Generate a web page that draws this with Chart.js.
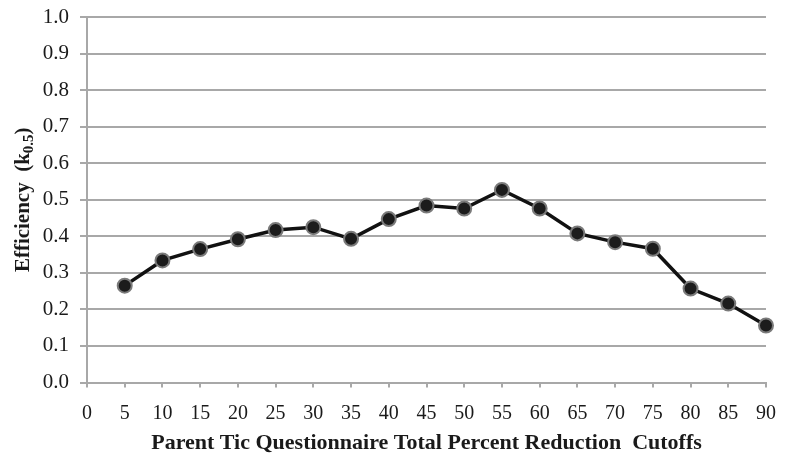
<!DOCTYPE html>
<html>
<head>
<meta charset="utf-8">
<script src="https://cdn.jsdelivr.net/npm/chart.js@4/dist/chart.umd.min.js"></script>
<style>
  html, body { margin: 0; padding: 0; background: #fff; }
  #wrap { width: 785px; height: 462px; }
</style>
</head>
<body>
<div id="wrap"><canvas id="chart"></canvas></div>
<script>
// cutoffs (percent reduction) and efficiency values
const cutoffs = [5, 10, 15, 20, 25, 30, 35, 40, 45, 50, 55, 60, 65, 70, 75, 80, 85, 90];
const efficiency = [0.265, 0.334, 0.365, 0.392, 0.417, 0.425, 0.393, 0.447, 0.484, 0.476, 0.527, 0.476, 0.408, 0.384, 0.366, 0.257, 0.216, 0.156];
const xTitle = "Parent Tic Questionnaire Total Percent Reduction  Cutoffs";
const yTitleParts = ["Efficiency  (k", "0.5", ")"];

const serif = "'Liberation Serif', 'DejaVu Serif', serif";
const gridGray = "#a8a8a8";
const textColor = "#1a1a1a";

// axis titles drawn by hand: the y one needs a subscript
const axisTitlePlugin = {
  id: "axisTitles",
  afterDraw(chart) {
    const ctx = chart.ctx;
    const area = chart.chartArea;
    ctx.save();
    ctx.fillStyle = textColor;
    ctx.textBaseline = "alphabetic";

    // x title
    ctx.font = "bold 22px " + serif;
    ctx.textAlign = "center";
    ctx.fillText(xTitle, (area.left + area.right) / 2, 449);

    // y title with subscript
    const big = "bold 21px " + serif;
    const small = "bold 15px " + serif;
    ctx.textAlign = "left";
    ctx.font = big;
    const w1 = ctx.measureText(yTitleParts[0]).width;
    const w3 = ctx.measureText(yTitleParts[2]).width;
    ctx.font = small;
    const w2 = ctx.measureText(yTitleParts[1]).width;
    const total = w1 + w2 + w3;
    ctx.translate(29, (area.top + area.bottom) / 2);
    ctx.rotate(-Math.PI / 2);
    let x = -total / 2;
    ctx.font = big;
    ctx.fillText(yTitleParts[0], x, 0);
    x += w1;
    ctx.font = small;
    ctx.fillText(yTitleParts[1], x, 4);
    x += w2;
    ctx.font = big;
    ctx.fillText(yTitleParts[2], x, 0);
    ctx.restore();
  }
};

new Chart(document.getElementById("chart"), {
  type: "line",
  data: {
    datasets: [{
      data: cutoffs.map((c, i) => ({ x: c, y: efficiency[i] })),
      borderColor: "#111",
      borderWidth: 3.5,
      pointRadius: 7,
      pointBackgroundColor: "#1c1c1c",
      pointBorderColor: "#7a7a7a",
      pointBorderWidth: 2,
      tension: 0,
      fill: false,
      clip: false
    }]
  },
  options: {
    responsive: true,
    maintainAspectRatio: false,
    animation: false,
    events: [],
    layout: { padding: { left: 8, top: 17, right: 19, bottom: 39.5 } },
    plugins: { legend: { display: false }, tooltip: { enabled: false } },
    scales: {
      x: {
        type: "linear",
        min: 0,
        max: 90,
        afterFit(scale) {
          scale.height = 40;
          scale.paddingLeft = 0;
          scale.paddingRight = 0;
        },
        ticks: { stepSize: 5, color: textColor, font: { family: serif, size: 20 }, padding: 14, maxRotation: 0 },
        grid: { drawOnChartArea: false, drawTicks: true, tickLength: 5, color: gridGray, lineWidth: 2 },
        border: { color: gridGray, width: 2 }
      },
      y: {
        min: 0,
        max: 1,
        afterFit(scale) {
          scale.width = 79;
          scale.paddingTop = 0;
          scale.paddingBottom = 0;
        },
        ticks: { stepSize: 0.1, color: textColor, font: { family: serif, size: 21 }, padding: 11, callback: v => v.toFixed(1) },
        grid: { color: gridGray, lineWidth: 2, tickLength: 7 },
        border: { color: gridGray, width: 2 }
      }
    }
  },
  plugins: [axisTitlePlugin]
});
</script>
</body>
</html>
